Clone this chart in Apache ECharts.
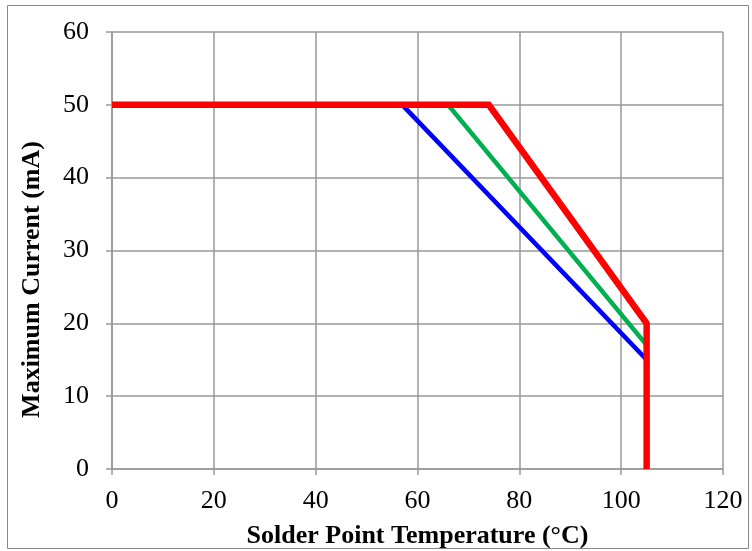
<!DOCTYPE html>
<html>
<head>
<meta charset="utf-8">
<script src="https://cdn.jsdelivr.net/npm/echarts@6/dist/echarts.min.js"></script>
<style>
	html, body {margin: 0; padding: 0; background: #fff;}
	#chart {width: 752px; height: 551px;}
</style>
</head>
<body>
<div id="chart"></div>
<script>
// derating curves: [temperature, current]
const blue = [[0, 50], [57, 50], [105, 15], [105, 0]];
const green = [[0, 50], [66, 50], [105, 17], [105, 0]];
const red = [[0, 50], [74, 50], [105, 20], [105, 0]];

const font = 'Liberation Serif, Times New Roman, serif';
const gridLine = {show: true, lineStyle: {color: '#999', width: 1.5}};
const axisLine = {show: true, lineStyle: {color: '#999', width: 1.5}};
const axisTick = {show: true, length: 6, lineStyle: {color: '#999', width: 1.5}};

function line(data, color, width)
{
	return {type: 'line', data, symbol: 'none', animation: false,
		lineStyle: {color, width, join: 'miter'}};
}

const chart = echarts.init(document.getElementById('chart'));
chart.setOption({
	animation: false,
	grid: {left: 112, right: 29, top: 32, bottom: 82, outerBoundsMode: 'none', containLabel: false},
	graphic: [{type: 'rect', shape: {x: 7.5, y: 5.5, width: 741, height: 543},
		style: {fill: 'none', stroke: '#888', lineWidth: 1}}],
	xAxis: {
		type: 'value', min: 0, max: 120, interval: 20,
		name: 'Solder Point Temperature (°C)', nameLocation: 'middle', nameGap: 54,
		nameTextStyle: {fontFamily: font, fontSize: 26, fontWeight: 'bold', color: '#000'},
		axisLine, axisTick, splitLine: gridLine,
		axisLabel: {fontFamily: font, fontSize: 26, color: '#000', margin: 19}
	},
	yAxis: {
		type: 'value', min: 0, max: 60, interval: 10,
		name: 'Maximum Current (mA)', nameLocation: 'middle', nameGap: 67,
		nameTextStyle: {fontFamily: font, fontSize: 26, fontWeight: 'bold', color: '#000',
			padding: [0, 58, 0, 0]},
		axisLine, axisTick, splitLine: gridLine,
		axisLabel: {fontFamily: font, fontSize: 26, color: '#000', margin: 23}
	},
	series: [
		line(blue, '#0000FF', 4.5),
		line(green, '#00B050', 4.5),
		line(red, '#FF0000', 6.5)
	]
});
</script>
</body>
</html>
